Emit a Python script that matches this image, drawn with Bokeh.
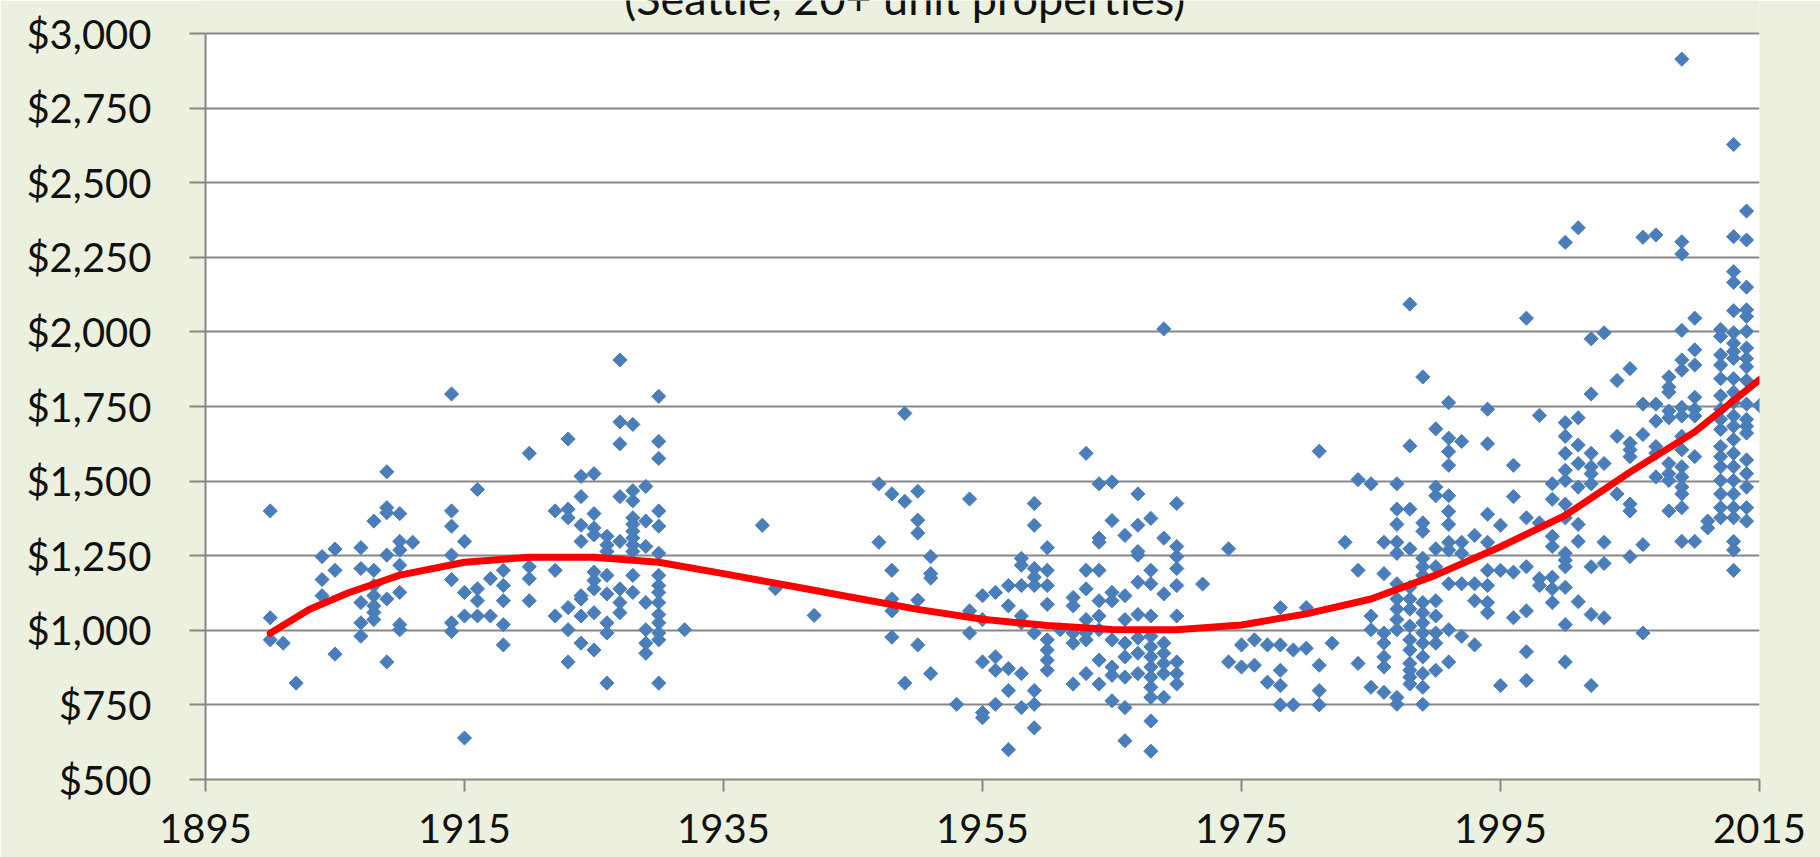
import numpy as np
from bokeh.plotting import figure
from bokeh.models import Range1d, FixedTicker, NumeralTickFormatter, Label, ColumnDataSource
from bokeh.embed import file_html
from bokeh.resources import INLINE

subtitle = "(Seattle, 20+ unit properties)"
x_ticks = [1895, 1915, 1935, 1955, 1975, 1995, 2015]
y_ticks = [500, 750, 1000, 1250, 1500, 1750, 2000, 2250, 2500, 2750, 3000]

# year built -> monthly rents of the properties built that year
built_years = [
    1900, 1901, 1902, 1904, 1905, 1907, 1908, 1909, 1910, 1911,
    1914, 1915, 1916, 1917, 1918, 1920, 1922, 1923, 1924, 1925,
    1926, 1927, 1928, 1929, 1930, 1932, 1938, 1939, 1942, 1947,
    1948, 1949, 1950, 1951, 1953, 1954, 1955, 1956, 1957, 1958,
    1959, 1960, 1961, 1962, 1963, 1964, 1965, 1966, 1967, 1968,
    1969, 1970, 1972, 1974, 1975, 1976, 1977, 1978, 1979, 1980,
    1981, 1982, 1983, 1984, 1985, 1986, 1987, 1988, 1989, 1990,
    1991, 1992, 1993, 1994, 1995, 1996, 1997, 1998, 1999, 2000,
    2001, 2002, 2003, 2004, 2005, 2006, 2007, 2008, 2009, 2010,
    2011, 2012, 2013, 2014, 2015,
]
rents_by_year = [
    [1400, 1042, 968], [957], [823], [1247, 1170, 1116], [1272, 1201, 920],
    [1277, 1207, 1093, 1025, 980], [1366, 1201, 1150, 1116, 1082, 1060, 1036],
    [1531, 1411, 1394, 1252, 1105, 894], [1391, 1298, 1269, 1218, 1127, 1019, 1002], [1295],
    [1792, 1400, 1349, 1252, 1170, 1025, 996], [1298, 1127, 1048, 639], [1472, 1139, 1099, 1048],
    [1173, 1048], [1201, 1150, 1099, 1019, 951], [1593, 1213, 1173, 1099], [1400, 1201, 1048],
    [1641, 1406, 1377, 1076, 1002, 894], [1516, 1448, 1352, 1298, 1116, 1105, 1048, 957],
    [1525, 1391, 1343, 1320, 1195, 1167, 1139, 1059, 934],
    [1315, 1286, 1264, 1184, 1122, 1025, 991, 823],
    [1906, 1698, 1625, 1448, 1298, 1139, 1093, 1059],
    [1690, 1468, 1434, 1377, 1355, 1332, 1309, 1286, 1264, 1184, 1127],
    [1482, 1366, 1281, 1093, 1002, 957, 923],
    [1784, 1633, 1576, 1400, 1349, 1258, 1184, 1150, 1127, 1093, 1053, 1025, 991, 968, 823],
    [1002], [1352], [1140], [1050], [1491, 1295],
    [1457, 1201, 1105, 1065, 977], [1727, 1432, 823], [1466, 1369, 1326, 1101, 951],
    [1247, 1190, 1175, 855], [752], [1440, 1065, 991], [1116, 1036, 894, 724, 707],
    [1127, 911, 866, 752], [1150, 1082, 872, 798, 600], [1241, 1218, 1150, 1048, 1025, 855, 741],
    [1425, 1352, 1207, 1178, 1150, 991, 798, 752, 673], [1277, 1201, 1150, 1087, 968, 934, 900, 866],
    [1002], [1110, 1082, 991, 957, 820], [1593, 1201, 1139, 1036, 991, 968, 855],
    [1491, 1309, 1295, 1201, 1099, 1048, 1002, 900, 820], [1497, 1368, 1127, 1099, 968, 877, 849, 764],
    [1318, 1116, 1036, 957, 911, 843, 741, 630], [1457, 1352, 1264, 1252, 1161, 1053, 974, 923, 855],
    [1375, 1201, 1156, 1048, 980, 945, 911, 877, 843, 809, 775, 696, 595],
    [2010, 1309, 1122, 957, 923, 889, 855, 775], [1425, 1281, 1247, 1207, 1150, 1048, 894, 855, 820],
    [1155], [1273, 894], [951, 877], [968, 883], [951, 826], [1076, 951, 866, 815, 750],
    [934, 750], [1076, 940], [1600, 883, 798, 750], [957], [1295], [1505, 1201, 889],
    [1491, 1048, 1002, 809], [1295, 1190, 991, 957, 911, 877, 792],
    [1491, 1406, 1355, 1295, 1258, 1156, 1105, 1071, 1036, 1002, 775, 752],
    [2093, 1618, 1406, 1273, 1144, 1105, 1071, 1014, 968, 934, 889, 866, 843, 820],
    [1849, 1360, 1332, 1241, 1213, 1184, 1093, 1059, 1025, 991, 957, 911, 855, 809, 752],
    [1675, 1480, 1451, 1273, 1213, 1099, 1048, 991, 957, 866],
    [1763, 1644, 1599, 1553, 1451, 1398, 1355, 1295, 1269, 1156, 1002, 894],
    [1633, 1295, 1258, 1156, 980], [1318, 1156, 1099, 951],
    [1741, 1625, 1389, 1295, 1201, 1150, 1093, 1059], [1352, 1201, 815],
    [1553, 1448, 1195, 1042], [2046, 1377, 1213, 1065, 928, 832], [1720, 1360, 1173, 1150],
    [1491, 1439, 1315, 1281, 1178, 1139, 1093],
    [2300, 1696, 1650, 1593, 1536, 1502, 1423, 1377, 1258, 1235, 1213, 1144, 1019, 894],
    [2349, 1712, 1621, 1559, 1480, 1355, 1298, 1096],
    [1977, 1792, 1593, 1548, 1525, 1491, 1213, 1053, 815], [1997, 1559, 1295, 1224, 1042],
    [1837, 1650, 1457], [1877, 1627, 1605, 1582, 1423, 1400, 1247], [2317, 1758, 1656, 1287, 991],
    [2325, 1758, 1701, 1616, 1593, 1514], [1849, 1815, 1798, 1735, 1712, 1559, 1525, 1502, 1400],
    [2914, 2302, 2261, 2005, 1906, 1872, 1747, 1718, 1650, 1605, 1548, 1514, 1480, 1457, 1411, 1298],
    [2046, 1940, 1889, 1781, 1741, 1718, 1582, 1298], [1366, 1343],
    [2008, 1985, 1923, 1889, 1843, 1786, 1741, 1707, 1673, 1616, 1582, 1548, 1502, 1457, 1411, 1377],
    [2628, 2319, 2202, 2166, 2071, 1997, 1962, 1934, 1911, 1843, 1798, 1764, 1718, 1684, 1639,
     1593, 1548, 1502, 1457, 1411, 1377, 1298, 1269, 1201],
    [2405, 2308, 2150, 2074, 2052, 2002, 1946, 1911, 1883, 1837, 1758, 1707, 1684, 1661, 1571,
     1525, 1480, 1411, 1366],
    [1753],
]

# trend line
trend_years = [1900, 1903, 1906, 1910, 1915, 1920, 1925, 1930, 1935, 1940, 1945, 1950,
               1955, 1960, 1965, 1970, 1975, 1980, 1985, 1990, 1995, 2000, 2005, 2010, 2015]
trend_rents = [990, 1070, 1125, 1185, 1228, 1245, 1245, 1228, 1190, 1150, 1110, 1070,
               1037, 1016, 1003, 1002, 1018, 1055, 1105, 1185, 1280, 1385, 1530, 1665, 1840]

xs, ys = [], []
for yr, vals in zip(built_years, rents_by_year):
    for v in vals:
        xs.append(yr)
        ys.append(v)
src = ColumnDataSource(dict(x=xs, y=ys))

FONT = "Lato"
TXT = "#111111"
GRID = "#878787"
BG = "#EBF1DE"

# layout (pixels): plot area 746 px tall, 33 px of margin above it, 78 below
W, H = 1820, 857
TOP_PAD, BOTTOM = 33, 78
PLOT_H = H - TOP_PAD - BOTTOM
y_lo, y_hi = y_ticks[0], y_ticks[-1]
units_per_px = (y_hi - y_lo) / PLOT_H
y_canvas_top = y_hi + TOP_PAD * units_per_px

p = figure(width=W, height=H, output_backend="svg", toolbar_location=None,
           x_range=Range1d(x_ticks[0], x_ticks[-1]), y_range=Range1d(y_lo, y_canvas_top),
           min_border_left=205, min_border_right=61, min_border_top=0, min_border_bottom=BOTTOM)
p.background_fill_color = BG
p.border_fill_color = BG
p.outline_line_color = None

# white plot area
p.quad(left=[x_ticks[0]], right=[x_ticks[-1]], bottom=[y_lo], top=[y_hi],
       fill_color="white", line_color=None, level="underlay")

p.xgrid.grid_line_color = None
p.ygrid.grid_line_color = GRID
p.ygrid.grid_line_width = 2
p.ygrid.ticker = FixedTicker(ticks=y_ticks)

p.xaxis.ticker = FixedTicker(ticks=x_ticks)
p.yaxis.ticker = FixedTicker(ticks=y_ticks)
p.yaxis.bounds = (y_lo, y_hi)
p.yaxis.formatter = NumeralTickFormatter(format="$0,0")
for ax in (p.xaxis, p.yaxis):
    ax.axis_line_color = GRID
    ax.axis_line_width = 2
    ax.major_tick_line_color = GRID
    ax.major_tick_line_width = 2
    ax.minor_tick_line_color = None
    ax.major_tick_in = 0
    ax.major_label_text_font = FONT
    ax.major_label_text_font_size = "40px"
    ax.major_label_text_color = TXT
p.xaxis.major_tick_out = 12
p.xaxis.major_label_standoff = 22
p.yaxis.major_tick_out = 16
p.yaxis.major_label_standoff = 38

p.scatter("x", "y", source=src, marker="square", angle=np.pi / 4, size=10,
          fill_color="#4A7EBB", line_color="#4A7EBB", line_width=1)
p.line(trend_years, trend_rents, line_color="#FF0000", line_width=7,
       line_cap="round", line_join="round")

# subtitle: upper part cut off by the top edge, as in the original
p.add_layout(Label(x=1949, y=y_canvas_top + 3 * units_per_px, text=subtitle,
                   text_align="center", text_baseline="alphabetic", text_font=FONT,
                   text_font_size="45px", text_color=TXT))

open("out.html", "w").write(file_html(p, INLINE))
